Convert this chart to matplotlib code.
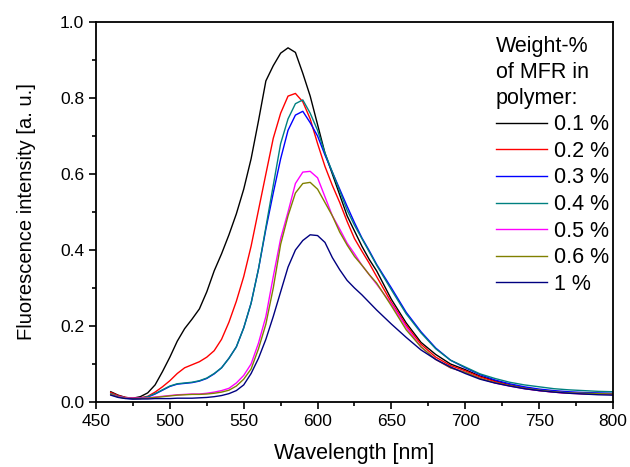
import matplotlib
matplotlib.use("Agg")
import matplotlib.pyplot as plt
from matplotlib.ticker import MultipleLocator

plt.rcParams['font.family'] = ['Liberation Sans', 'DejaVu Sans']

wavelength = [460, 465, 470, 475, 480, 485, 490, 495, 500, 505, 510, 515, 520, 525, 530, 535,
              540, 545, 550, 555, 560, 565, 570, 575, 580, 585, 590, 595, 600, 605, 610, 615,
              620, 625, 630, 635, 640, 650, 660, 670, 680, 690, 700, 710, 720, 730, 740, 750,
              760, 770, 780, 790, 800]

w01 = [0.027, 0.018, 0.012, 0.010, 0.014, 0.024, 0.045, 0.080, 0.118, 0.160, 0.193, 0.218,
       0.245, 0.290, 0.345, 0.390, 0.440, 0.495, 0.560, 0.640, 0.740, 0.845, 0.885, 0.918,
       0.932, 0.920, 0.865, 0.805, 0.730, 0.655, 0.600, 0.545, 0.490, 0.450, 0.410, 0.375,
       0.345, 0.270, 0.208, 0.157, 0.125, 0.100, 0.085, 0.068, 0.056, 0.045, 0.037, 0.031,
       0.027, 0.024, 0.022, 0.021, 0.020]

w02 = [0.025, 0.017, 0.012, 0.010, 0.011, 0.015, 0.026, 0.040, 0.056, 0.075, 0.090, 0.098,
       0.106, 0.118, 0.135, 0.165, 0.210, 0.265, 0.330, 0.410, 0.505, 0.600, 0.694, 0.760,
       0.805, 0.812, 0.790, 0.745, 0.680, 0.620, 0.570, 0.525, 0.475, 0.430, 0.397, 0.365,
       0.330, 0.262, 0.202, 0.152, 0.118, 0.096, 0.082, 0.066, 0.054, 0.044, 0.036, 0.030,
       0.026, 0.023, 0.022, 0.021, 0.020]

w03 = [0.020, 0.014, 0.010, 0.008, 0.009, 0.013, 0.021, 0.031, 0.041, 0.047, 0.049, 0.051,
       0.055, 0.062, 0.074, 0.090, 0.115, 0.145, 0.195, 0.260, 0.350, 0.455, 0.550, 0.640,
       0.715, 0.755, 0.765, 0.735, 0.700, 0.650, 0.605, 0.560, 0.515, 0.472, 0.432, 0.398,
       0.362, 0.300, 0.236, 0.185, 0.142, 0.110, 0.090, 0.072, 0.058, 0.048, 0.040, 0.034,
       0.030, 0.027, 0.025, 0.024, 0.023]

w04 = [0.022, 0.015, 0.011, 0.009, 0.010, 0.014, 0.022, 0.032, 0.042, 0.048, 0.050, 0.052,
       0.056, 0.063, 0.075, 0.090, 0.115, 0.145, 0.195, 0.260, 0.350, 0.460, 0.570, 0.680,
       0.745, 0.785, 0.795, 0.760, 0.715, 0.655, 0.605, 0.555, 0.505, 0.465, 0.430, 0.395,
       0.360, 0.295, 0.232, 0.182, 0.140, 0.110, 0.092, 0.074, 0.062, 0.052, 0.045, 0.040,
       0.035, 0.032, 0.030, 0.028, 0.027]

w05 = [0.020, 0.014, 0.011, 0.010, 0.010, 0.011, 0.013, 0.015, 0.017, 0.019, 0.020, 0.021,
       0.021, 0.023, 0.026, 0.030, 0.036, 0.050, 0.070, 0.100, 0.155, 0.225, 0.330, 0.430,
       0.500, 0.575, 0.605, 0.607, 0.590, 0.540, 0.490, 0.455, 0.418, 0.390, 0.360, 0.335,
       0.310, 0.258, 0.197, 0.145, 0.112, 0.090, 0.078, 0.062, 0.050, 0.042, 0.035, 0.030,
       0.026, 0.023, 0.022, 0.021, 0.020]

w06 = [0.020, 0.013, 0.010, 0.009, 0.009, 0.010, 0.012, 0.014, 0.016, 0.018, 0.019, 0.020,
       0.020, 0.021, 0.023, 0.026, 0.031, 0.042, 0.060, 0.087, 0.140, 0.205, 0.300, 0.415,
       0.490, 0.550, 0.575, 0.578, 0.560, 0.525, 0.490, 0.447, 0.413, 0.383, 0.360, 0.335,
       0.313, 0.253, 0.190, 0.145, 0.112, 0.090, 0.078, 0.062, 0.051, 0.043, 0.036, 0.031,
       0.027, 0.024, 0.023, 0.022, 0.021]

w1 = [0.018, 0.012, 0.009, 0.008, 0.008, 0.008, 0.009, 0.009, 0.009, 0.010, 0.010, 0.010,
      0.011, 0.012, 0.014, 0.017, 0.022, 0.030, 0.045, 0.075, 0.115, 0.165, 0.225, 0.290,
      0.355, 0.400, 0.425, 0.440, 0.438, 0.420, 0.380, 0.348, 0.320, 0.300, 0.282, 0.262,
      0.242, 0.205, 0.170, 0.137, 0.112, 0.092, 0.075, 0.060, 0.050, 0.042, 0.035, 0.030,
      0.026, 0.023, 0.021, 0.019, 0.018]

series = [w01, w02, w03, w04, w05, w06, w1]
labels = ['0.1 %', '0.2 %', '0.3 %', '0.4 %', '0.5 %', '0.6 %', '1 %']
colors = ['#000000', '#ff0000', '#0000ff', '#008080', '#ff00ff', '#808000', '#000080']

fig = plt.figure(figsize=(6.3, 4.67), dpi=100)
ax = fig.add_axes([96/630, 1-402/467, (613-96)/630, (402-22)/467])

for y, lab, c in zip(series, labels, colors):
    ax.plot(wavelength, y, color=c, lw=1.0, label=lab)

ax.set_xlim(450, 800)
ax.set_ylim(0, 1.0)
ax.xaxis.set_major_locator(MultipleLocator(50))
ax.xaxis.set_minor_locator(MultipleLocator(25))
ax.yaxis.set_major_locator(MultipleLocator(0.2))
ax.yaxis.set_minor_locator(MultipleLocator(0.1))
ax.yaxis.set_major_formatter(matplotlib.ticker.FormatStrFormatter('%.1f'))
ax.tick_params(which='both', direction='out', top=False, right=False, width=1.2, labelsize=12.5)
ax.tick_params(which='major', length=5)
ax.tick_params(which='minor', length=3)
for s in ax.spines.values():
    s.set_linewidth(1.3)

ax.set_xlabel('Wavelength [nm]', fontsize=15.5, labelpad=10)
ax.set_ylabel('Fluorescence intensity [a. u.]', fontsize=14.5, labelpad=17)

leg = ax.legend(title='Weight-%\nof MFR in\npolymer:', loc='upper right',
                bbox_to_anchor=(0.992, 0.963), frameon=False,
                fontsize=15.5, title_fontsize=15.5, handlelength=2.4, handletextpad=0.3,
                labelspacing=0.26, borderaxespad=0.0, borderpad=0.0, alignment='left')
leg.get_title().set_linespacing(1.3)

fig.savefig('out.png', dpi=100)
